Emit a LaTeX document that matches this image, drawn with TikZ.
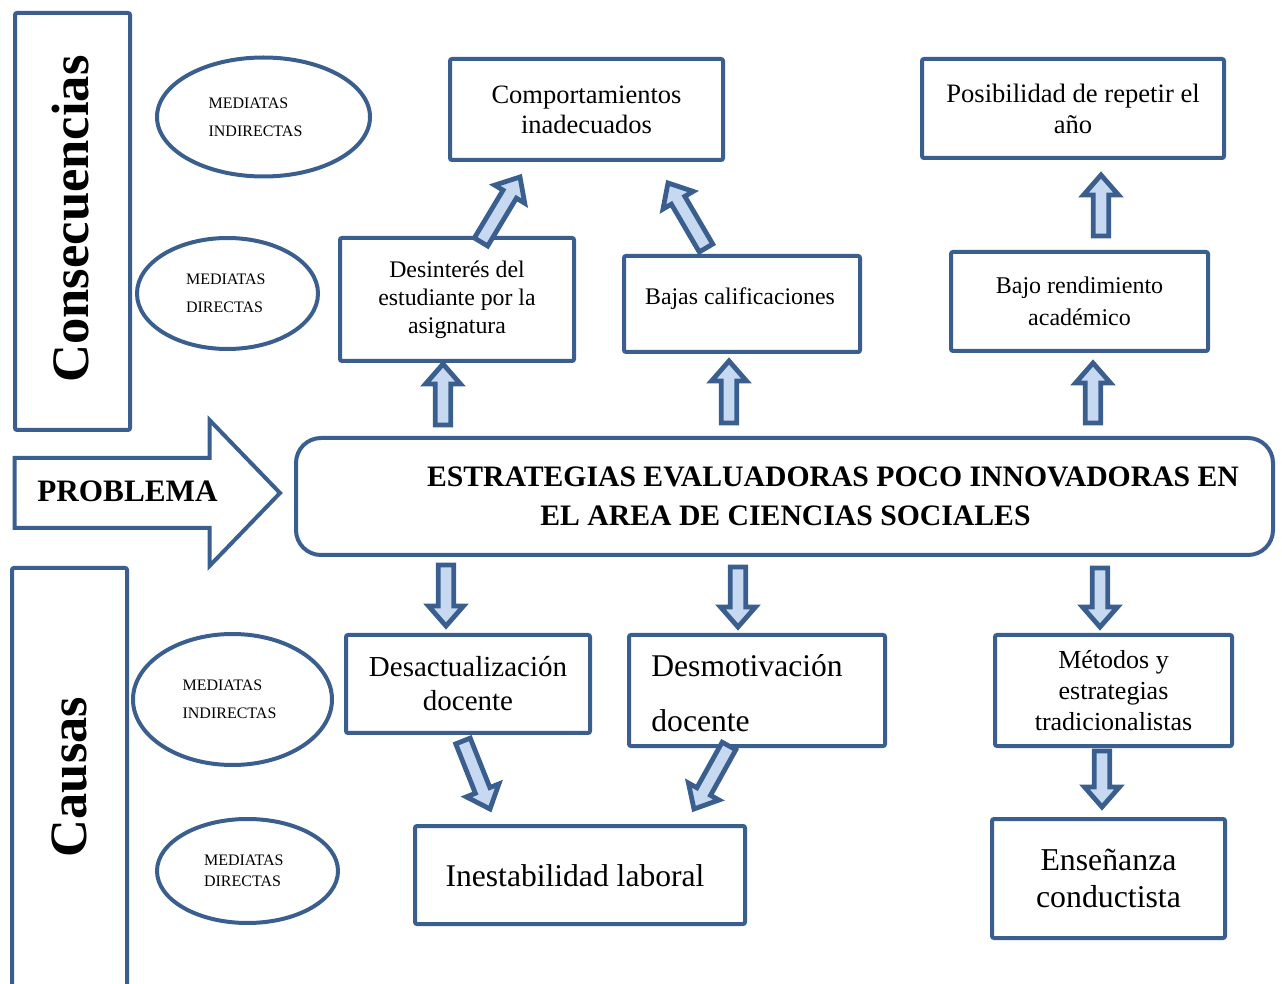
\documentclass[tikz,border=0pt]{standalone}
\usepackage{fontspec}
\setmainfont{Liberation Serif}
\usetikzlibrary{shapes.geometric,calc}
\definecolor{bord}{HTML}{3A5F8E}
\definecolor{afill}{HTML}{C6D9F1}
\newcommand\fsz[2]{\fontsize{#1}{#2}\selectfont}
\newcommand\blockarr[2]{%
 \draw[barr] ($(#1)!3.9pt!90:(#2)$)
  -- ($(#2)!10pt!(#1)!3.9pt!-90:(#1)$)
  -- ($(#2)!10pt!(#1)!8.75pt!-90:(#1)$)
  -- (#2)
  -- ($(#2)!10pt!(#1)!8.75pt!90:(#1)$)
  -- ($(#2)!10pt!(#1)!3.9pt!90:(#1)$)
  -- ($(#1)!3.9pt!-90:(#2)$) -- cycle;}
\tikzset{
  bx/.style={draw=bord, line width=2pt, rounded corners=1pt, align=center, inner sep=0pt},
  ell/.style={ellipse, draw=bord, line width=2pt, align=left, inner sep=0pt, font=\fsz{8pt}{14pt}},
  barr/.style={draw=bord, fill=afill, line width=2.4pt, line join=miter},
  txt/.style={inner sep=0pt},
  outl/.style={draw=bord, line width=2pt, line join=miter},
}
\begin{document}
\begin{tikzpicture}[x=0.5pt,y=-0.5pt]
\useasboundingbox (0,0) rectangle (1282,984);

% side labels
\node[bx, minimum width=57.5pt, minimum height=208.5pt] (consec) at (72.5,221.5) {};
\node[txt, rotate=90, font=\fsz{26.3pt}{30pt}\bfseries] (consectxt) at (71,219) {Consecuencias};
\draw[outl, rounded corners=1pt] (12,1000) -- (12,568) -- (127,568) -- (127,1000);
\node[txt, rotate=90, font=\fsz{26.2pt}{30pt}\bfseries] (causas) at (69,777) {Causas};

% problem arrow
\draw[outl] (14.5,458) -- (209.5,458) -- (209.5,420) -- (280,493) -- (209.5,566) -- (209.5,528) -- (14.5,528) -- cycle;
\node[txt, font=\fsz{15.6pt}{18pt}\bfseries] (problema) at (127.5,491) {PROBLEMA};

% main box
\node[bx, rounded corners=12.5pt, minimum width=488.5pt, minimum height=58.5pt] (main) at (784.5,496.5) {};
\node[txt, font=\fsz{14.85pt}{19.5pt}\bfseries] (main1) at (833,476.5) {ESTRATEGIAS EVALUADORAS POCO INNOVADORAS EN};
\node[txt, font=\fsz{14.85pt}{19.5pt}\bfseries] (main2) at (785.5,515.5) {EL AREA DE CIENCIAS SOCIALES};

% ellipses
\node[ell, minimum width=106.5pt, minimum height=59.5pt] (e1) at (263.5,117) {MEDIATAS\\INDIRECTAS\hspace*{8pt}};
\node[ell, minimum width=90.5pt, minimum height=55.5pt] (e2) at (227.5,293.5) {MEDIATAS\\DIRECTAS\hspace*{3pt}};
\node[ell, minimum width=99.5pt, minimum height=65.5pt] (e3) at (232.5,699.5) {MEDIATAS\\INDIRECTAS\hspace*{3pt}};
\node[ell, minimum width=90.5pt, minimum height=52pt, font=\fsz{8pt}{10.5pt}] (e4) at (247.5,871) {MEDIATAS\\DIRECTAS\hspace*{5pt}};

% consequence boxes
\node[bx, minimum width=136.5pt, minimum height=50.5pt, font=\fsz{13.25pt}{15pt}] (comp) at (586.5,109.5) {Comportamientos\\inadecuados};
\node[bx, minimum width=151pt, minimum height=49.5pt, font=\fsz{13.3pt}{15.5pt}] (posib) at (1073,108.5) {Posibilidad de repetir el\\año};
\node[bx, minimum width=117pt, minimum height=61.5pt, font=\fsz{11.9pt}{14pt}] (desint) at (457,299.5) {Desinterés del\\estudiante por la\\asignatura};
\node[bx, minimum width=118pt, minimum height=48pt] (bajas) at (742,304) {};
\node[txt, font=\fsz{11.9pt}{14pt}] (bajastxt) at (740,299) {Bajas calificaciones};
\node[bx, minimum width=128.5pt, minimum height=49.5pt, font=\fsz{12pt}{16pt}] (bajo) at (1079.5,301.5) {Bajo rendimiento\\académico};

% cause boxes
\node[bx, minimum width=122pt, minimum height=49pt, font=\fsz{14.5pt}{17pt}] (desact) at (468,684) {Desactualización\\docente};
\node[bx, minimum width=128pt, minimum height=55.5pt] (desmot) at (757,690.5) {};
\node[txt, anchor=west, align=left, font=\fsz{15.8pt}{27.5pt}] (desmottxt) at (651,693) {Desmotivación\\docente};
\node[bx, minimum width=118.5pt, minimum height=55.5pt, font=\fsz{13pt}{15.5pt}] (metodos) at (1113.5,690.5) {Métodos y\\estrategias\\tradicionalistas};
\node[bx, minimum width=165pt, minimum height=49pt] (inest) at (580,875) {};
\node[txt, font=\fsz{15.8pt}{18pt}] (inesttxt) at (575,876) {Inestabilidad laboral};
\node[bx, minimum width=116.5pt, minimum height=59.5pt, font=\fsz{15.9pt}{18.5pt}] (ensen) at (1108.5,878.5) {Enseñanza\\conductista};

% arrow end points
\coordinate (a1t) at (481,242); \coordinate (a1h) at (520,177);
\coordinate (a2t) at (706,248); \coordinate (a2h) at (668,183);
\coordinate (a3t) at (443,425); \coordinate (a3h) at (443,364);
\coordinate (a4t) at (729,423); \coordinate (a4h) at (729,361);
\coordinate (a5t) at (1093,423); \coordinate (a5h) at (1093,363);
\coordinate (a6t) at (1101,236); \coordinate (a6h) at (1101,175);
\coordinate (d1t) at (446,565); \coordinate (d1h) at (446,626);
\coordinate (d2t) at (738,567); \coordinate (d2h) at (738,627);
\coordinate (d3t) at (1100,568); \coordinate (d3h) at (1100,627);
\coordinate (d4t) at (1102,751); \coordinate (d4h) at (1102,807);
\coordinate (d5t) at (463,741); \coordinate (d5h) at (490,809);
\coordinate (d6t) at (729,746); \coordinate (d6h) at (694,809);

\blockarr{a1t}{a1h}
\blockarr{a2t}{a2h}
\blockarr{a3t}{a3h}
\blockarr{a4t}{a4h}
\blockarr{a5t}{a5h}
\blockarr{a6t}{a6h}
\blockarr{d1t}{d1h}
\blockarr{d2t}{d2h}
\blockarr{d3t}{d3h}
\blockarr{d4t}{d4h}
\blockarr{d5t}{d5h}
\blockarr{d6t}{d6h}
\end{tikzpicture}
\end{document}
